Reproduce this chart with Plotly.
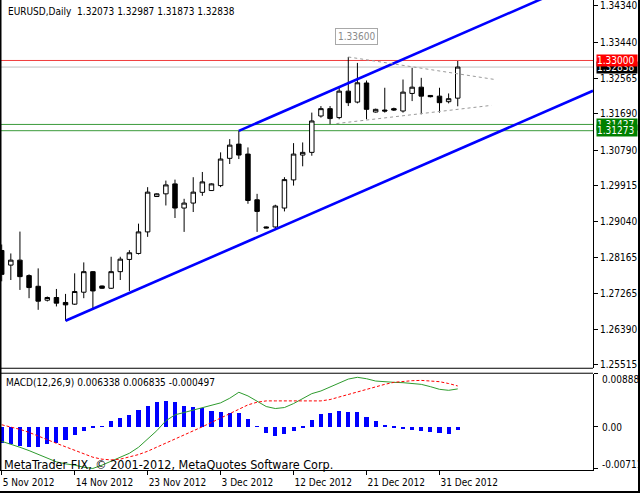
import plotly.graph_objects as go

# ---------------- data ----------------
dates = ["2012-11-05","2012-11-06","2012-11-07","2012-11-08","2012-11-09","2012-11-11","2012-11-12","2012-11-13",
         "2012-11-14","2012-11-15","2012-11-16","2012-11-18","2012-11-19","2012-11-20","2012-11-21","2012-11-22",
         "2012-11-23","2012-11-25","2012-11-26","2012-11-27","2012-11-28","2012-11-29","2012-11-30","2012-12-02",
         "2012-12-03","2012-12-04","2012-12-05","2012-12-06","2012-12-07","2012-12-09","2012-12-10","2012-12-11",
         "2012-12-12","2012-12-13","2012-12-14","2012-12-16","2012-12-17","2012-12-18","2012-12-19","2012-12-20",
         "2012-12-21","2012-12-23","2012-12-24","2012-12-25","2012-12-26","2012-12-27","2012-12-28","2012-12-30",
         "2012-12-31","2013-01-01","2013-01-02"]

open_ = [1.28327,1.27968,1.28090,1.27709,1.27447,1.27105,1.27171,1.27049,1.27007,1.27301,1.27806,1.27454,1.27398,
         1.27806,1.28107,1.28254,1.28784,1.29654,1.29720,1.29965,1.29371,1.29493,1.29757,1.29801,1.29923,1.30593,
         1.30943,1.30698,1.29574,1.28906,1.28906,1.29371,1.30063,1.30674,1.30740,1.31634,1.31815,1.31595,1.32246,
         1.31977,1.32446,1.31732,1.31781,1.31815,1.31757,1.32189,1.32343,1.32140,1.32123,1.31986,1.32073]
high = [1.28474,1.28254,1.28792,1.27740,1.27887,1.27195,1.27381,1.27259,1.27765,1.28034,1.27821,1.27464,1.28173,
        1.28173,1.28334,1.28987,1.29884,1.29733,1.30046,1.30070,1.29598,1.30129,1.30258,1.29977,1.30740,1.31065,
        1.31268,1.30862,1.29720,1.28921,1.29452,1.30129,1.30967,1.30984,1.31718,1.31879,1.31879,1.32368,1.33086,
        1.32940,1.32507,1.31815,1.32329,1.31840,1.32532,1.32817,1.32573,1.32148,1.32329,1.32189,1.32987]
low = [1.27569,1.27601,1.27357,1.27154,1.26868,1.27073,1.26951,1.26599,1.26990,1.27154,1.26868,1.27381,1.27381,
       1.27601,1.27332,1.28229,1.28662,1.29647,1.29434,1.29126,1.28784,1.29273,1.29672,1.29794,1.29884,1.30454,
       1.30576,1.29476,1.28784,1.28872,1.28848,1.29288,1.29923,1.30397,1.30657,1.31595,1.31432,1.31554,1.31879,
       1.31945,1.31554,1.31718,1.31718,1.31757,1.31718,1.32001,1.31676,1.32092,1.31718,1.31945,1.31873]
close = [1.27740,1.28090,1.27684,1.27415,1.27080,1.27171,1.27032,1.26990,1.27318,1.27806,1.27332,1.27398,1.27806,
         1.28114,1.28271,1.28784,1.29762,1.29720,1.29940,1.29371,1.29493,1.29762,1.30014,1.29965,1.30576,1.30918,
         1.30674,1.29557,1.29288,1.28882,1.29420,1.30070,1.30698,1.30740,1.31512,1.31815,1.31571,1.32246,1.31962,
         1.32451,1.31798,1.31798,1.31757,1.31781,1.32221,1.32343,1.32123,1.32109,1.31962,1.32060,1.32838]

macd_main = [-0.00252,-0.00297,-0.00353,-0.00409,-0.00476,-0.00543,-0.00599,-0.00633,-0.00655,-0.00690,-0.00711,
             -0.00655,-0.00588,-0.00532,-0.00454,-0.00353,-0.00213,-0.00073,0.00095,0.00196,0.00235,0.00274,0.00319,
             0.00358,0.00398,0.00476,0.00577,0.00515,0.00420,0.00336,0.00302,0.00319,0.00386,0.00476,0.00554,0.00599,
             0.00666,0.00734,0.00800,0.00830,0.00806,0.00767,0.00750,0.00745,0.00739,0.00728,0.00711,0.00672,0.00627,
             0.00610,0.006338]
macd_signal = [0.00028,-0.00006,-0.00050,-0.00101,-0.00157,-0.00224,-0.00286,-0.00342,-0.00398,-0.00465,-0.00521,
               -0.00554,-0.00566,-0.00554,-0.00521,-0.00476,-0.00420,-0.00353,-0.00286,-0.00213,-0.00140,-0.00073,
               -0.00006,0.00067,0.00140,0.00218,0.00291,0.00364,0.00409,0.00431,0.00431,0.00431,0.00426,0.00420,
               0.00426,0.00431,0.00454,0.00498,0.00532,0.00577,0.00622,0.00666,0.00711,0.00745,0.00762,0.00773,
               0.00778,0.00773,0.00756,0.00725,0.006835]
macd_hist = [-0.00269,-0.00297,-0.00325,-0.00342,-0.00342,-0.00297,-0.00269,-0.00230,-0.00140,-0.00073,-0.00028,
             0.00010,0.00095,0.00151,0.00196,0.00274,0.00347,0.00420,0.00442,0.00420,0.00347,0.00330,0.00308,
             0.00263,0.00252,0.00235,0.00235,0.00123,0.00010,-0.00101,-0.00157,-0.00118,-0.00073,-0.00017,0.00106,
             0.00218,0.00235,0.00263,0.00252,0.00252,0.00162,0.00095,0.00022,-0.00017,-0.00045,-0.00056,-0.00073,
             -0.00084,-0.00101,-0.00118,-0.000497]

tick_idx = [0, 8, 16, 24, 32, 40, 48]
tick_text = ["5 Nov 2012", "14 Nov 2012", "23 Nov 2012", "3 Dec 2012", "12 Dec 2012", "21 Dec 2012", "31 Dec 2012"]
price_ticks = [1.34340, 1.33440, 1.32565, 1.31690, 1.30790, 1.29915, 1.29040, 1.28165, 1.27265, 1.26390, 1.25515]
price_tick_text = ["1.34340", "1.33440", "1.32565", "1.31690", "1.30790", "1.29915", "1.29040", "1.28165",
                   "1.27265", "1.26390", "1.25515"]
macd_ticks = [0.008884, 0.0, -0.00711]
macd_tick_text = ["0.008884", "0.00", "-0.00711"]

level_red = 1.33000
level_bid = 1.32838
level_green = [1.31427, 1.31273]
label_price = 1.33600
label_bar = 38.9

channel_lower = [(7, 1.26599), (30, 1.28848)]
channel_upper_start = (26, 1.31268)
tri_upper = [(38, 1.33086), (54.1, 1.32531)]
tri_lower = [(36.7, 1.31448), (53.7, 1.31896)]

header_text = "EURUSD,Daily  1.32073 1.32987 1.31873 1.32838"
macd_text = "MACD(12,26,9) 0.006338 0.006835 -0.000497"
copyright_text = "MetaTrader FIX, © 2001-2012, MetaQuotes Software Corp."

# ---------------- layout geometry ----------------
W, H = 640, 496
FONT = "DejaVu Sans Condensed, DejaVu Sans, Liberation Sans, sans-serif"
x_range = [-0.186, 64.83]
px = lambda v: v / W
py = lambda v: 1 - v / H
main_dom = [py(370), py(0)]
macd_dom = [py(473), py(376)]
x_dom = [0, px(593)]

idx = list(range(len(dates)))

fig = go.Figure()

fig.add_trace(go.Candlestick(
    x=idx, open=open_, high=high, low=low, close=close,
    increasing=dict(line=dict(color="black", width=1), fillcolor="white"),
    decreasing=dict(line=dict(color="black", width=1), fillcolor="black"),
    whiskerwidth=0, hoverinfo="skip", xaxis="x", yaxis="y"))

# channel lines
(x0, y0), (x1, y1) = channel_lower
slope = (y1 - y0) / (x1 - x0)
xe = x_range[1]
fig.add_trace(go.Scatter(x=[x0, xe], y=[y0, y0 + slope * (xe - x0)], mode="lines",
                         line=dict(color="#0000FF", width=2.6), xaxis="x", yaxis="y", hoverinfo="skip"))
ux, uy = channel_upper_start
fig.add_trace(go.Scatter(x=[ux, xe], y=[uy, uy + slope * (xe - ux)], mode="lines",
                         line=dict(color="#0000FF", width=2.6), xaxis="x", yaxis="y", hoverinfo="skip"))
# triangle
for seg in (tri_upper, tri_lower):
    fig.add_trace(go.Scatter(x=[p[0] for p in seg], y=[p[1] for p in seg], mode="lines",
                             line=dict(color="#9A9A9A", width=1, dash="3px,3px"),
                             xaxis="x", yaxis="y", hoverinfo="skip"))

# MACD
fig.add_trace(go.Bar(x=idx, y=macd_hist, width=0.45, marker=dict(color="#0000FF", line=dict(width=0)),
                     xaxis="x2", yaxis="y2", hoverinfo="skip"))
fig.add_trace(go.Scatter(x=idx, y=macd_main, mode="lines", line=dict(color="#2E9B2E", width=1),
                         xaxis="x2", yaxis="y2", hoverinfo="skip"))
fig.add_trace(go.Scatter(x=idx, y=macd_signal, mode="lines", line=dict(color="#FF0000", width=1, dash="3px,2px"),
                         xaxis="x2", yaxis="y2", hoverinfo="skip"))

shapes = []
# horizontal levels
shapes.append(dict(type="line", xref="x domain", yref="y", x0=0, x1=1, y0=level_bid, y1=level_bid,
                   line=dict(color="#C0C0C0", width=1), layer="below"))
shapes.append(dict(type="line", xref="x domain", yref="y", x0=0, x1=1, y0=level_red, y1=level_red,
                   line=dict(color="#F03C3C", width=1), layer="below"))
for g in level_green:
    shapes.append(dict(type="line", xref="x domain", yref="y", x0=0, x1=1, y0=g, y1=g,
                       line=dict(color="#3A9A3A", width=1), layer="below"))
# panel borders
def pline(xa, ya, xb, yb, w=1):
    shapes.append(dict(type="line", xref="paper", yref="paper", x0=px(xa), y0=py(ya), x1=px(xb), y1=py(yb),
                       line=dict(color="black", width=w)))
pline(0.5, 0, 0.5, 473, 2)
pline(0, 370.5, 593, 370.5)
pline(0, 375.5, 593, 375.5)
pline(639, 0, 639, 496, 2)
pline(0, 495, 640, 495, 2)
fig.update_layout(shapes=shapes)

ann = []
ann.append(dict(x=px(6), y=py(12), xref="paper", yref="paper", text=header_text, showarrow=False,
                xanchor="left", yanchor="middle", font=dict(family=FONT, size=10, color="black")))
ann.append(dict(x=px(4), y=py(385), xref="paper", yref="paper", text=macd_text, showarrow=False,
                xanchor="left", yanchor="middle", font=dict(family=FONT, size=10, color="black")))
ann.append(dict(x=px(2), y=py(467), xref="paper", yref="paper", text=copyright_text, showarrow=False,
                xanchor="left", yanchor="middle", font=dict(family=FONT, size=12.5, color="black")))
ann.append(dict(x=label_bar, y=label_price, xref="x", yref="y", text="1.33600", showarrow=False,
                font=dict(family=FONT, size=10, color="#8A8A8A"), bgcolor="white",
                bordercolor="#A8A8A8", borderwidth=1, borderpad=2))
# right price boxes
def pbox(val, bg):
    ann.append(dict(x=px(596), y=val, xref="paper", yref="y", text=f"{val:.5f}", showarrow=False,
                    xanchor="left", yanchor="middle", align="left", width=40, height=11,
                    font=dict(family=FONT, size=10, color="white"), bgcolor=bg, borderpad=0))
pbox(level_bid, "black")
pbox(level_red, "#FF0000")
pbox(level_green[0], "#008000")
pbox(level_green[1], "#008000")
for v, t, yy in zip(macd_ticks, macd_tick_text, [381.5, 430.5, 467.5]):
    ann.append(dict(x=px(600), y=py(yy), xref="paper", yref="paper", text=t, showarrow=False,
                    xanchor="left", yanchor="middle", font=dict(family=FONT, size=10, color="black")))
fig.update_layout(annotations=ann)

fig.update_layout(
    width=W, height=H, margin=dict(l=0, r=0, t=0, b=0),
    paper_bgcolor="white", plot_bgcolor="white", showlegend=False, bargap=0,
    xaxis=dict(domain=x_dom, range=x_range, anchor="y", showticklabels=False, showgrid=False, zeroline=False,
               rangeslider=dict(visible=False), fixedrange=True),
    yaxis=dict(domain=main_dom, range=[1.25443, 1.34487], side="right", anchor="x",
               tickvals=price_ticks, ticktext=price_tick_text, ticks="outside", ticklen=4, tickcolor="black",
               showline=True, linecolor="black", linewidth=1, showgrid=False, zeroline=False,
               tickfont=dict(family=FONT, size=10, color="black")),
    xaxis2=dict(domain=x_dom, range=x_range, anchor="y2", tickvals=tick_idx, ticktext=tick_text,
                ticks="outside", ticklen=4, tickcolor="black", showline=True, linecolor="black",
                showgrid=False, zeroline=False, ticklabelposition="outside right", ticklabelstandoff=3,
                tickfont=dict(family=FONT, size=10, color="black")),
    yaxis2=dict(domain=macd_dom, range=[-0.007392, 0.008905], side="right", anchor="x2",
                tickvals=macd_ticks, showticklabels=False, ticks="outside", ticklen=4, tickcolor="black",
                showline=True, linecolor="black", showgrid=False, zeroline=False),
)

fig.write_html("out.html")
